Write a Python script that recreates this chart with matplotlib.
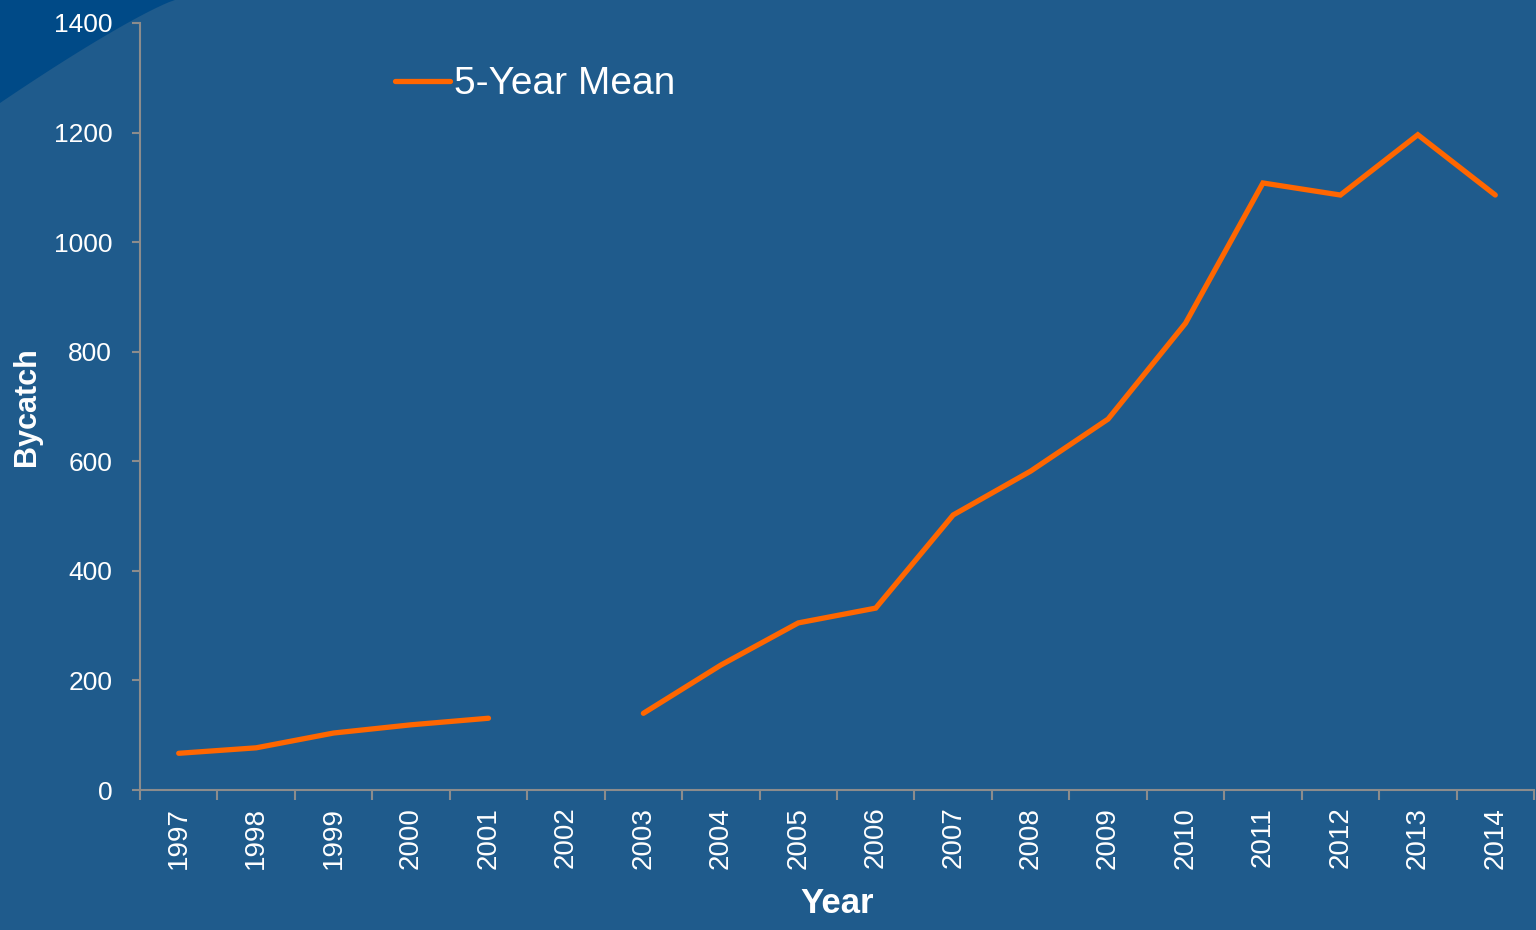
import matplotlib.pyplot as plt
import numpy as np
from matplotlib.patches import Polygon

years = [str(y) for y in range(1997, 2015)]
mean_5yr = [67, 77, 104, 119, 131, np.nan, 140, 228, 305, 332,
            502, 582, 677, 852, 1108, 1086, 1196, 1086]

bg = '#1f5b8c'
corner = '#004a87'
orange = '#ff6600'
grey = '#8c8c8c'

plt.rcParams['font.family'] = ['Liberation Sans Narrow', 'Liberation Sans', 'DejaVu Sans']

fig = plt.figure(figsize=(15.36, 9.3), dpi=100, facecolor=bg)

# decorative dark corner, top-left
t = np.linspace(0, 1, 30)
cx = 175 * t
cy = 930 - (103 * (1 - t) ** 1.15)
pts = [(0, 930)] + list(zip(cx, cy)) + [(175, 930)]
pts = [(px / 1536, py / 930) for px, py in pts]
fig.patches.append(Polygon(pts, closed=True, transform=fig.transFigure,
                           facecolor=corner, edgecolor='none', zorder=-10))

ax = fig.add_axes([140 / 1536, 140 / 930, 1394 / 1536, 767 / 930])
ax.set_facecolor('none')

x = np.arange(len(years))
ax.plot(x, mean_5yr, color=orange, lw=3.8, solid_capstyle='round',
        solid_joinstyle='miter', label='5-Year Mean')

ax.set_xlim(-0.5, len(years) - 0.5)
ax.set_ylim(0, 1400)
ax.set_yticks(range(0, 1401, 200))
ax.set_xticks(x)
ax.set_xticklabels(years, rotation=90)
ax.set_xticks(np.arange(-0.5, len(years), 1), minor=True)
ax.tick_params(axis='x', which='major', length=0, pad=12, labelsize=20, colors='white')
ax.tick_params(axis='x', which='minor', length=7, width=1.5, color=grey, direction='out')
ax.tick_params(axis='y', length=6, width=1.5, color=grey, labelsize=19, labelcolor='white', pad=14)

for s in ['top', 'right']:
    ax.spines[s].set_visible(False)
for s in ['left', 'bottom']:
    ax.spines[s].set_color(grey)
    ax.spines[s].set_linewidth(1.5)

ax.set_xlabel('Year', fontsize=25, fontweight='bold', color='white')
ax.xaxis.set_label_coords(0.5, -0.126)
ax.set_ylabel('Bycatch', fontsize=22, fontweight='bold', color='white')
ax.yaxis.set_label_coords(-0.0705, 0.5)

leg = ax.legend(loc='upper left', bbox_to_anchor=(0.172, 0.964), frameon=False,
                fontsize=28, handlelength=1.4, handletextpad=0.12,
                borderaxespad=0)
for txt in leg.get_texts():
    txt.set_color('white')

fig.savefig('out.png', dpi=100, facecolor=bg)
